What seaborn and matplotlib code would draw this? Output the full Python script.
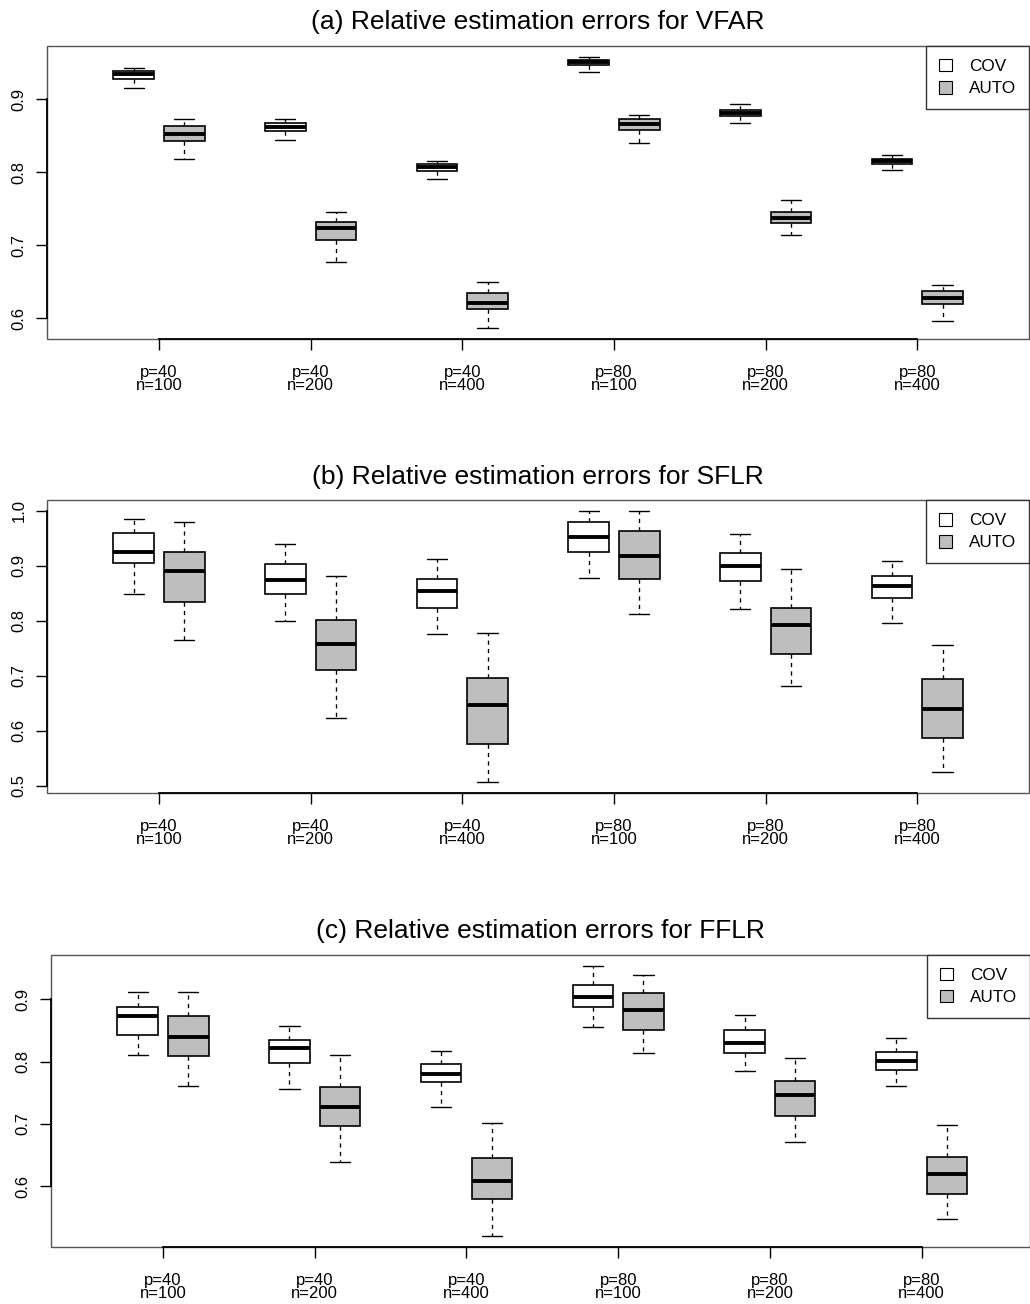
import numpy as np
import pandas as pd
import matplotlib
matplotlib.use("Agg")
import matplotlib.pyplot as plt
import seaborn as sns
from matplotlib.patches import Patch, Rectangle

# ---------------- data ----------------
settings = ["p=40\nn=100", "p=40\nn=200", "p=40\nn=400",
            "p=80\nn=100", "p=80\nn=200", "p=80\nn=400"]
methods = ["COV", "AUTO"]
titles = ["(a) Relative estimation errors for VFAR",
          "(b) Relative estimation errors for SFLR",
          "(c) Relative estimation errors for FFLR"]

# five-number summaries per setting: lower whisker, Q1, median, Q3, upper whisker
vfar_cov = [[0.9155, 0.9278, 0.9342, 0.9392, 0.9429],
            [0.8448, 0.8567, 0.8617, 0.8681, 0.8726],
            [0.7915, 0.8015, 0.8079, 0.8111, 0.8161],
            [0.9374, 0.9470, 0.9506, 0.9543, 0.9575],
            [0.8681, 0.8767, 0.8813, 0.8850, 0.8936],
            [0.8038, 0.8120, 0.8156, 0.8188, 0.8234]]
vfar_auto = [[0.8179, 0.8430, 0.8521, 0.8635, 0.8736],
             [0.6775, 0.7076, 0.7231, 0.7322, 0.7454],
             [0.5867, 0.6132, 0.6214, 0.6346, 0.6501],
             [0.8407, 0.8580, 0.8658, 0.8726, 0.8790],
             [0.7144, 0.7308, 0.7381, 0.7459, 0.7618],
             [0.5959, 0.6191, 0.6278, 0.6373, 0.6456]]

sflr_cov = [[0.8495, 0.9053, 0.9248, 0.9593, 0.9848],
            [0.7991, 0.8489, 0.8744, 0.9035, 0.9393],
            [0.7755, 0.8228, 0.8544, 0.8768, 0.9120],
            [0.8786, 0.9248, 0.9527, 0.9794, 0.9994],
            [0.8216, 0.8726, 0.8993, 0.9242, 0.9587],
            [0.7955, 0.8422, 0.8635, 0.8823, 0.9096]]
sflr_auto = [[0.7646, 0.8337, 0.8908, 0.9260, 0.9800],
             [0.6226, 0.7112, 0.7585, 0.8022, 0.8817],
             [0.5061, 0.5752, 0.6475, 0.6954, 0.7785],
             [0.8125, 0.8756, 0.9187, 0.9636, 0.9994],
             [0.6814, 0.7403, 0.7919, 0.8240, 0.8950],
             [0.5255, 0.5862, 0.6396, 0.6942, 0.7561]]

fflr_cov = [[0.8106, 0.8427, 0.8738, 0.8882, 0.9118],
            [0.7554, 0.7977, 0.8223, 0.8347, 0.8577],
            [0.7270, 0.7666, 0.7795, 0.7966, 0.8164],
            [0.8561, 0.8877, 0.9032, 0.9225, 0.9541],
            [0.7848, 0.8143, 0.8304, 0.8507, 0.8754],
            [0.7607, 0.7870, 0.8004, 0.8159, 0.8379]]
fflr_auto = [[0.7607, 0.8095, 0.8400, 0.8732, 0.9112],
             [0.6392, 0.6965, 0.7275, 0.7586, 0.8111],
             [0.5192, 0.5786, 0.6076, 0.6456, 0.7013],
             [0.8143, 0.8507, 0.8823, 0.9096, 0.9391],
             [0.6713, 0.7125, 0.7463, 0.7693, 0.8057],
             [0.5465, 0.5867, 0.6193, 0.6472, 0.6981]]

yticks_list = [[0.6, 0.7, 0.8, 0.9],
               [0.5, 0.6, 0.7, 0.8, 0.9, 1.0],
               [0.6, 0.7, 0.8, 0.9]]
ylims = [(0.5717, 0.973), (0.4867, 1.0194), (0.502, 0.9718)]

panels = [(vfar_cov, vfar_auto), (sflr_cov, sflr_auto), (fflr_cov, fflr_auto)]


def make_frame(cov, auto):
    rows = []
    for s, c, a in zip(settings, cov, auto):
        for v in c:
            rows.append((s, "COV", v))
        for v in a:
            rows.append((s, "AUTO", v))
    return pd.DataFrame(rows, columns=["setting", "method", "value"])


# ---------------- figure ----------------
sns.set_style("white")
plt.rcParams["font.family"] = ["Liberation Sans", "DejaVu Sans"]
plt.rcParams["text.color"] = "black"
plt.rcParams["axes.labelcolor"] = "black"
plt.rcParams["xtick.color"] = "black"
plt.rcParams["ytick.color"] = "black"

W, H = 1030, 1304
fig = plt.figure(figsize=(W / 100, H / 100), dpi=100)

# axes boxes in pixels: left, top, right, bottom
boxes_px = [(47, 46, 1029, 339), (47, 500.3, 1029, 793), (51, 954.7, 1030, 1247)]
xlims = [(-0.7385, 5.7365), (-0.7385, 5.7365), (-0.738, 5.714)]
palette = {"COV": "white", "AUTO": "#bebebe"}

for k, ((cov, auto), (l, t, r, b)) in enumerate(zip(panels, boxes_px)):
    ax = fig.add_axes([l / W, 1 - b / H, (r - l) / W, (b - t) / H])
    df = make_frame(cov, auto)
    sns.boxplot(data=df, x="setting", y="value", hue="method",
                order=settings, hue_order=methods, palette=palette,
                saturation=1, width=0.667, gap=0.2, whis=(0, 100),
                showfliers=False, linecolor="black", linewidth=1.2,
                medianprops={"linewidth": 2.8, "color": "black"},
                whiskerprops={"linestyle": (0, (3.2, 3.2)), "linewidth": 0.95},
                capprops={"linewidth": 1.0},
                legend=False, ax=ax)
    ax.set_xlim(*xlims[k])
    ax.set_ylim(*ylims[k])
    yt = yticks_list[k]
    ax.set_yticks(yt)
    ax.set_yticklabels([f"{v:.1f}" for v in yt])
    ax.set_xlabel("")
    ax.set_ylabel("")
    ax.set_title(titles[k], fontsize=19, pad=12, color="black")

    # R-like axes: black axis lines spanning ticks, grey frame box
    for side in ["top", "right"]:
        ax.spines[side].set_visible(False)
    for side in ["left", "bottom"]:
        ax.spines[side].set_color("black")
        ax.spines[side].set_linewidth(1.3)
    ax.spines["bottom"].set_bounds(0, len(settings) - 1)
    ax.spines["left"].set_bounds(yt[0], yt[-1])
    ax.add_patch(Rectangle((0, 0), 1, 1, transform=ax.transAxes, fill=False,
                           ec="#555555", lw=1.0, clip_on=False, zorder=0.5))

    ax.tick_params(axis="x", direction="out", length=7.9, width=1.0,
                   pad=10.5, labelsize=12, colors="black", bottom=True)
    ax.tick_params(axis="y", direction="out", length=7.7, width=1.0,
                   pad=7, labelsize=12, colors="black", left=True,
                   labelrotation=90)
    for lab in ax.get_yticklabels():
        lab.set_va("center")
    for lab in ax.get_xticklabels():
        lab.set_linespacing(0.85)

    handles = [Patch(facecolor=palette[m], edgecolor="black", lw=0.8, label=m)
               for m in methods]
    leg = ax.legend(handles=handles, loc="upper right", borderaxespad=0,
                    fancybox=False, frameon=True, fontsize=12.3,
                    handlelength=0.76, handleheight=0.76, handletextpad=1.0,
                    labelspacing=0.4, borderpad=0.75)
    for txt in leg.get_texts():
        txt.set_color("black")
    leg.get_frame().set_edgecolor("#333333")
    leg.get_frame().set_linewidth(1.0)
    leg.get_frame().set_alpha(1)

fig.savefig("out.png", dpi=100)
